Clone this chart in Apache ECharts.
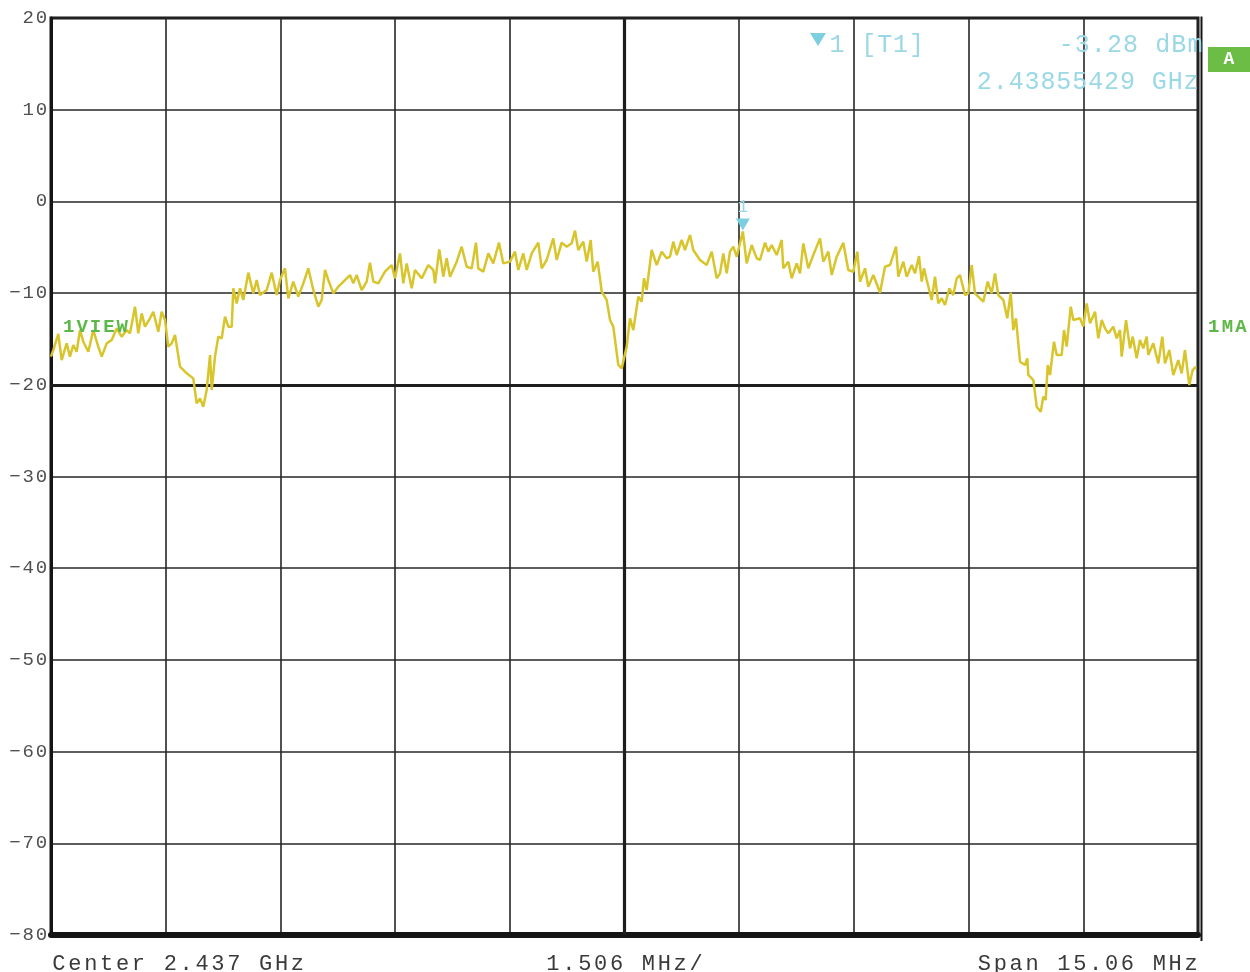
<!DOCTYPE html>
<html>
<head>
<meta charset="utf-8">
<script src="https://cdn.jsdelivr.net/npm/echarts@6/dist/echarts.min.js"></script>
<style>
html,body{margin:0;padding:0;background:#fff;}
#chart{width:1250px;height:972px;}
</style>
</head>
<body>
<div id="chart"></div>
<script>
// Frequency offset from center (MHz), center 2.437 GHz, span 15.06 MHz
const freqOffsetMHz = [
-7.530,-7.500,-7.434,-7.390,-7.324,-7.281,-7.237,-7.193,-7.149,-7.106,-7.040,-6.975,-6.909,-6.864,-6.799,-6.733,-6.667,-6.602,-6.536,-6.493,
-6.427,-6.384,-6.339,-6.296,-6.230,-6.187,-6.121,-6.077,-6.033,-5.990,-5.945,-5.902,-5.836,-5.748,-5.662,-5.617,-5.574,-5.530,-5.486,-5.442,
-5.420,-5.377,-5.333,-5.289,-5.245,-5.202,-5.157,-5.136,-5.092,-5.048,-5.005,-4.939,-4.874,-4.829,-4.786,-4.698,-4.632,-4.567,-4.523,-4.458,
-4.414,-4.349,-4.283,-4.217,-4.152,-4.086,-4.020,-3.976,-3.932,-3.889,-3.823,-3.758,-3.713,-3.604,-3.561,-3.516,-3.451,-3.385,-3.342,-3.298,
-3.233,-3.145,-3.057,-3.013,-2.948,-2.904,-2.860,-2.794,-2.751,-2.663,-2.576,-2.510,-2.488,-2.432,-2.379,-2.335,-2.291,-2.203,-2.138,-2.072,
-2.006,-1.950,-1.920,-1.854,-1.788,-1.723,-1.648,-1.591,-1.503,-1.438,-1.394,-1.329,-1.284,-1.218,-1.132,-1.087,-1.022,-0.935,-0.890,-0.825,
-0.759,-0.693,-0.650,-0.607,-0.541,-0.496,-0.444,-0.410,-0.352,-0.299,-0.234,-0.190,-0.147,-0.081,-0.037,0.029,0.072,0.116,0.181,0.226,
0.256,0.291,0.357,0.423,0.488,0.554,0.597,0.641,0.685,0.751,0.794,0.860,0.903,0.991,1.079,1.145,1.211,1.254,1.297,1.342,
1.385,1.429,1.473,1.554,1.604,1.670,1.736,1.779,1.845,1.888,1.933,1.998,2.064,2.085,2.151,2.195,2.261,2.304,2.348,2.413,
2.479,2.567,2.610,2.676,2.721,2.786,2.873,2.938,3.004,3.057,3.092,3.158,3.201,3.267,3.355,3.420,3.486,3.565,3.595,3.661,
3.705,3.771,3.814,3.867,3.902,3.932,3.968,4.034,4.077,4.120,4.165,4.208,4.265,4.317,4.362,4.405,4.471,4.514,4.559,4.602,
4.668,4.711,4.769,4.821,4.865,4.908,4.974,5.026,5.071,5.105,5.140,5.193,5.259,5.289,5.302,5.368,5.412,5.465,5.499,5.530,
5.557,5.587,5.639,5.675,5.740,5.771,5.806,5.859,5.893,5.981,6.024,6.069,6.112,6.178,6.221,6.266,6.309,6.352,6.418,6.463,
6.506,6.528,6.585,6.637,6.673,6.725,6.768,6.812,6.856,6.877,6.943,7.009,7.061,7.097,7.153,7.206,7.271,7.316,7.359,7.416,
7.460,7.504
];
// Trace level (dBm)
const levelDbm = [
-16.93,-16.21,-14.46,-17.30,-15.48,-16.93,-15.66,-16.39,-14.03,-15.30,-16.39,-14.03,-15.84,-16.93,-15.48,-15.12,-13.84,-14.75,-14.03,-14.39,
-11.48,-14.39,-12.21,-13.66,-12.75,-12.03,-14.21,-12.03,-12.93,-15.84,-15.48,-14.57,-18.02,-18.75,-19.30,-22.02,-21.48,-22.39,-20.57,-16.75,
-20.57,-16.93,-14.75,-14.93,-12.57,-13.66,-13.66,-9.48,-11.12,-9.48,-10.75,-7.77,-10.03,-8.57,-10.21,-9.66,-7.77,-10.21,-8.57,-7.30,
-10.57,-8.75,-10.39,-8.94,-7.30,-9.66,-11.48,-10.75,-7.48,-8.57,-10.03,-9.30,-8.94,-8.03,-8.94,-8.03,-9.66,-8.75,-6.68,-8.75,
-8.94,-7.66,-6.94,-8.39,-5.67,-8.94,-6.76,-9.48,-7.48,-8.39,-6.94,-7.48,-8.94,-5.23,-8.21,-6.21,-8.21,-6.57,-4.94,-7.12,
-7.30,-4.50,-7.30,-7.66,-5.67,-6.76,-4.50,-6.76,-6.57,-5.48,-7.48,-5.67,-7.48,-5.67,-4.50,-7.30,-6.39,-4.03,-6.39,-4.50,
-4.94,-4.57,-3.19,-5.30,-4.39,-6.57,-4.21,-7.66,-6.57,-9.85,-10.75,-12.94,-13.66,-17.84,-18.21,-15.84,-12.75,-14.03,-10.39,-10.94,
-8.39,-9.66,-5.30,-6.94,-5.48,-6.21,-6.03,-4.39,-5.85,-4.21,-5.30,-3.67,-5.30,-6.39,-6.94,-5.48,-8.39,-7.85,-5.67,-7.85,
-5.48,-4.94,-6.03,-3.28,-6.76,-4.76,-6.21,-6.39,-4.50,-5.48,-4.76,-5.85,-4.21,-7.30,-6.58,-8.39,-6.76,-7.85,-4.58,-7.30,
-5.85,-4.03,-6.58,-5.48,-8.03,-6.03,-4.50,-7.48,-7.67,-5.48,-8.76,-7.30,-9.30,-8.03,-9.96,-7.12,-6.94,-4.94,-8.21,-6.57,
-8.21,-6.94,-7.85,-5.96,-8.75,-7.30,-8.57,-10.75,-8.21,-11.12,-10.57,-11.30,-9.48,-10.21,-8.39,-8.03,-10.21,-10.03,-6.94,-10.03,
-10.57,-10.94,-8.75,-10.03,-7.85,-10.21,-10.75,-12.75,-9.95,-14.03,-12.75,-17.48,-17.84,-17.12,-18.93,-19.48,-22.39,-22.93,-21.30,-21.66,
-17.84,-18.93,-15.30,-16.75,-16.75,-14.03,-15.84,-11.48,-12.94,-12.75,-13.66,-11.12,-13.30,-12.03,-14.93,-12.94,-13.84,-14.39,-13.66,-14.93,
-14.03,-16.93,-12.94,-16.03,-14.75,-17.12,-15.12,-16.03,-14.75,-16.75,-15.48,-17.66,-14.75,-17.66,-16.21,-18.93,-17.30,-18.75,-16.21,-20.02,
-18.39,-18.03
];
const markerFreqMHz = 1.554;
const markerLevel = -3.28;
const yTicks = {min: -80, max: 20, step: 10};
const xTicks = {min: -7.53, max: 7.53, step: 1.506};
const textCenter = 'Center 2.437 GHz';
const textPerDiv = '1.506 MHz/';
const textSpan = 'Span 15.06 MHz';
const markerTitle = '1 [T1]';
const markerLevelText = '-3.28 dBm';
const markerFreqText = '2.43855429 GHz';

const MONO = '"Liberation Mono", "DejaVu Sans Mono", monospace';
function spaced(s) {
  return s.split('').map(c => '{c|' + c + '}').join('');
}
function spacedText(s, x, y, align, size, width, color, weight) {
  return {
    type: 'text', silent: true, z: 100,
    style: {
      x: x, y: y,
      text: spaced(s),
      align: align, verticalAlign: 'middle',
      textAlign: align, textVerticalAlign: 'middle',
      rich: { c: { width: width, align: 'center', fontSize: size, fontFamily: MONO, fill: color, color: color, fontWeight: weight || 'normal' } }
    }
  };
}

const data = freqOffsetMHz.map((f, i) => [f, levelDbm[i]]);
const chart = echarts.init(document.getElementById('chart'), null, {renderer: 'canvas'});
const cyan = '#9bd8e6';
const option = {
  animation: false,
  backgroundColor: '#ffffff',
  grid: {left: 51, right: 52, top: 18, bottom: 37, show: true, borderColor: '#151515', borderWidth: 3},
  xAxis: {
    type: 'value', min: xTicks.min, max: xTicks.max, interval: xTicks.step,
    axisLabel: {show: false}, axisTick: {show: false},
    axisLine: {show: true, onZero: false, lineStyle: {color: '#151515', width: 6}},
    splitLine: {show: true, lineStyle: {color: '#262626', width: 1.6}}
  },
  yAxis: {
    type: 'value', min: yTicks.min, max: yTicks.max, interval: yTicks.step,
    axisTick: {show: false},
    axisLine: {show: true, onZero: false, lineStyle: {color: '#151515', width: 3}},
    splitLine: {show: true, lineStyle: {color: '#262626', width: 1.6}},
    axisLabel: {
      margin: 3,
      formatter: v => spaced(String(v).replace('-', '\u2212')),
      rich: {c: {width: 13.2, align: 'center', fontSize: 19, fontFamily: MONO, color: '#505050'}}
    }
  },
  series: [{
    type: 'line', data: data, showSymbol: false, symbol: 'none',
    lineStyle: {color: '#d8c52c', width: 2.5}, z: 5,
    markLine: {
      silent: true, symbol: 'none', label: {show: false},
      data: [
        {xAxis: 0, lineStyle: {color: '#1e1e1e', width: 3.2, type: 'solid'}},
        {yAxis: -20, lineStyle: {color: '#1e1e1e', width: 2.8, type: 'solid'}}
      ]
    },
    markPoint: {
      silent: true,
      data: [{coord: [markerFreqMHz, markerLevel]}],
      symbol: 'triangle', symbolRotate: 180, symbolSize: [14, 12], symbolOffset: [0, -7],
      itemStyle: {color: '#7ccfe1'},
      label: {show: true, formatter: '1', position: 'top', distance: 2, color: cyan, fontSize: 18, fontFamily: MONO}
    }
  }],
  graphic: [
    {type: 'line', silent: true, z: 100, shape: {x1: 1201.5, y1: 16.5, x2: 1201.5, y2: 941}, style: {stroke: '#151515', lineWidth: 2}},
    {type: 'polygon', silent: true, z: 100, shape: {points: [[810, 33], [826, 33], [818, 46]]}, style: {fill: '#7ccfe1'}},
    spacedText(markerTitle, 829, 45, 'left', 25, 15.9, cyan),
    spacedText(markerLevelText, 1203, 45, 'right', 25, 16.1, cyan),
    spacedText(markerFreqText, 1199, 82, 'right', 25, 15.9, cyan),
    {type: 'rect', silent: true, z: 100, shape: {x: 1208, y: 47, width: 42, height: 25}, style: {fill: '#6cbd45'}},
    {type: 'text', silent: true, z: 101, style: {x: 1229, y: 59.5, text: 'A', align: 'center', verticalAlign: 'middle', textAlign: 'center', textVerticalAlign: 'middle', fill: '#ffffff', font: 'bold 18px ' + MONO}},
    spacedText('1VIEW', 62, 327, 'left', 19, 13.4, '#5cb947', 'bold'),
    spacedText('1MA', 1207, 327, 'left', 19, 13.6, '#5cb947', 'bold'),
    spacedText(textCenter, 51, 964, 'left', 22, 15.9, '#3a3a3a'),
    spacedText(textPerDiv, 545, 964, 'left', 22, 15.9, '#3a3a3a'),
    spacedText(textSpan, 1199, 964, 'right', 22, 15.9, '#3a3a3a')
  ]
};
chart.setOption(option);
</script>
</body>
</html>
